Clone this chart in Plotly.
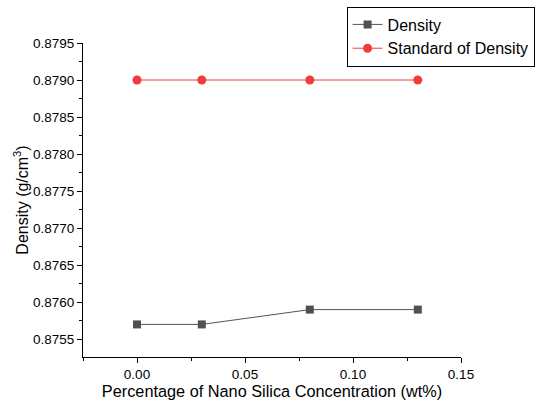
import plotly.graph_objects as go

x_vals = [0.0, 0.03, 0.08, 0.13]
density = [0.8757, 0.8757, 0.8759, 0.8759]
standard = [0.8790, 0.8790, 0.8790, 0.8790]

fig = go.Figure()
fig.add_trace(go.Scatter(x=x_vals, y=density, mode="lines+markers", name="Density",
                         line=dict(color="#555555", width=1),
                         marker=dict(symbol="square", size=8, color="#505050")))
fig.add_trace(go.Scatter(x=x_vals, y=standard, mode="lines+markers", name="Standard of Density",
                         line=dict(color="#f03c3c", width=1),
                         marker=dict(symbol="circle", size=9, color="#f03c3c")))

fig.update_layout(
    width=539, height=407,
    margin=dict(l=83, r=78, t=43, b=50, autoexpand=False),
    plot_bgcolor="white", paper_bgcolor="white",
    font=dict(family="Liberation Sans, Arial", size=13.5, color="black"),
    legend=dict(xref="container", yref="container", x=0.643, y=0.984,
                xanchor="left", yanchor="top",
                bordercolor="black", borderwidth=1, bgcolor="white",
                font=dict(size=16), tracegroupgap=0, itemwidth=30),
    showlegend=True,
)
fig.update_xaxes(range=[-0.025, 0.15], tickvals=[0.0, 0.05, 0.10, 0.15],
                 ticktext=["0.00", "0.05", "0.10", "0.15"], automargin=False,
                 showline=True, linecolor="black", linewidth=1, ticks="outside",
                 ticklen=5, tickcolor="black", showgrid=False, zeroline=False,
                 minor=dict(tickvals=[-0.025, 0.025, 0.075, 0.125], ticks="outside", ticklen=3, tickcolor="black"),
                 title=dict(text="Percentage of Nano Silica Concentration (wt%)", font=dict(size=16.3), standoff=0))
yt = [0.8755, 0.8760, 0.8765, 0.8770, 0.8775, 0.8780, 0.8785, 0.8790, 0.8795]
fig.update_yaxes(range=[0.87526, 0.8795], tickvals=yt, ticktext=[f"{v:.4f}" for v in yt], automargin=False,
                 showline=True, linecolor="black", linewidth=1, ticks="outside",
                 ticklen=5, tickcolor="black", showgrid=False, zeroline=False,
                 minor=dict(tickvals=[0.87575 + 0.0005*i for i in range(8)], ticks="outside", ticklen=3, tickcolor="black"),
                 title=dict(text="Density (g/cm<sup>3</sup>)", font=dict(size=16), standoff=0))

fig.write_html("out.html", config={"displayModeBar": False},
               post_script="document.body.style.margin='0';document.body.style.overflow='hidden';")
